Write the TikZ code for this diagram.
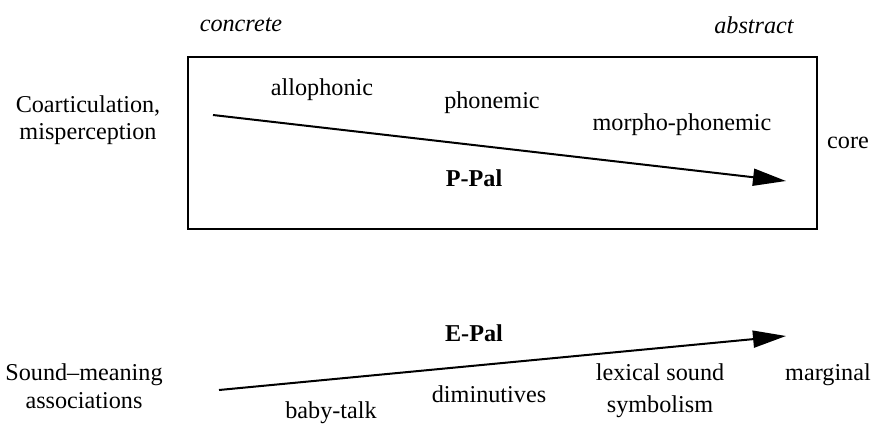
\documentclass[tikz,border=0pt]{standalone}
\usepackage{fontspec}
\setmainfont{Liberation Serif}
\usetikzlibrary{arrows.meta}
\tikzset{
  lbl/.style={inner sep=0pt, font=\fontsize{12.1}{14}\selectfont},
  ital/.style={lbl, font=\fontsize{12.1}{14}\selectfont\itshape},
  bld/.style={lbl, font=\fontsize{12.1}{14}\selectfont\bfseries},
  mainarrow/.style={line width=1pt, -{Triangle[length=16.5pt,width=8.5pt]}},
  frame/.style={draw, line width=0.6pt}
}
\begin{document}
\begin{tikzpicture}[x=0.5pt,y=-0.5pt]
\useasboundingbox (0,0) rectangle (872,424);
\draw[frame] (188,57) rectangle (817,229);
\node[ital] (conc) at (241,25) {concrete};
\node[ital] (abst) at (754,25) {abstract};
\node[lbl, align=center, font=\fontsize{12.1}{13.5}\selectfont] (coart) at (88,120) {Coarticulation,\\misperception};
\node[lbl] (allo) at (322,90) {allophonic};
\node[lbl] (phon) at (492,103) {phonemic};
\node[lbl] (morph) at (682,125) {morpho-phonemic};
\node[lbl] (core) at (848,143) {core};
\node[bld] (ppal) at (474,178) {P-Pal};
\coordinate (ps) at (213,115);
\coordinate (pe) at (786,181);
\draw[mainarrow] (ps) -- (pe);
\node[bld] (epal) at (474,333) {E-Pal};
\node[lbl, align=center, font=\fontsize{12.1}{14}\selectfont] (snd) at (84,386) {Sound--meaning\\associations};
\node[lbl] (baby) at (331,413) {baby-talk};
\node[lbl] (dim) at (489,394) {diminutives};
\node[lbl, align=center, font=\fontsize{12.1}{16}\selectfont] (lex) at (660,391) {lexical sound\\symbolism};
\node[lbl] (marg) at (828,375) {marginal};
\coordinate (es) at (219,390);
\coordinate (ee) at (786,336);
\draw[mainarrow] (es) -- (ee);
\end{tikzpicture}
\end{document}
